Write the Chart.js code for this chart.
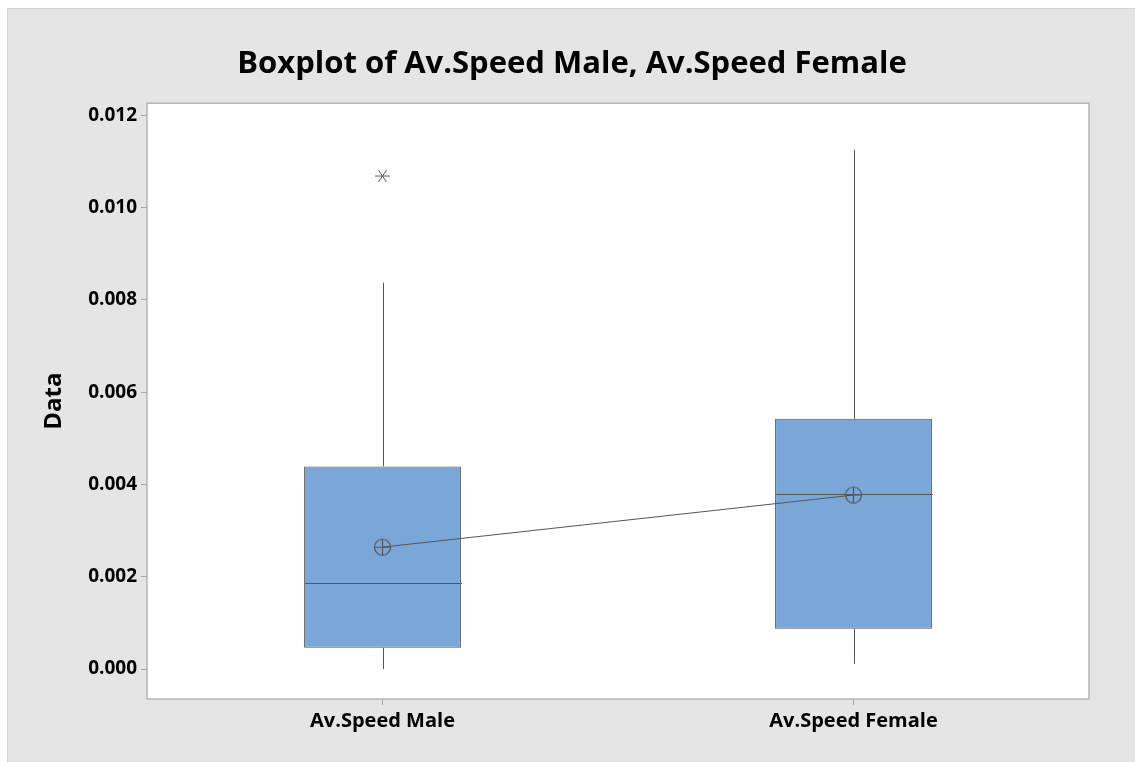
<!DOCTYPE html>
<html>
<head>
<meta charset="utf-8">
<script src="https://cdn.jsdelivr.net/npm/chart.js@4/dist/chart.umd.min.js"></script>
<style>
  html, body { margin: 0; padding: 0; background: #fff; }
  #wrap {
    position: absolute; left: 7px; top: 8px; width: 1128px; height: 754px;
    background: #e5e5e5; border-top: 1px solid #d4d4d4; border-left: 1px solid #d4d4d4;
  }
</style>
</head>
<body>
<div id="wrap"><canvas id="chart"></canvas></div>
<script>
// values
const categories = ["Av.Speed Male", "Av.Speed Female"];
const q1 = [0.00046, 0.00087];
const median = [0.00187, 0.00380];
const q3 = [0.00439, 0.00542];
const whiskerLow = [0.00000, 0.00011];
const whiskerHigh = [0.00837, 0.01125];
const means = [0.00264, 0.00377];
const outlierCat = ["Av.Speed Male"];
const outlierVal = [0.01068];
const tickValues = [0, 0.002, 0.004, 0.006, 0.008, 0.010, 0.012];

const lineCol = "#555555";
const boxFill = "#7ba7d8";
const font = "'Open Sans', 'Noto Sans', sans-serif";

// mean marker: circle with a plus
const meanImg = document.createElement("canvas");
meanImg.width = 19; meanImg.height = 19;
(() => {
  const c = meanImg.getContext("2d");
  c.strokeStyle = lineCol; c.lineWidth = 1.2;
  c.beginPath(); c.arc(9.5, 9.5, 8, 0, Math.PI * 2); c.stroke();
  c.beginPath();
  c.moveTo(1.5, 9.5); c.lineTo(17.5, 9.5);
  c.moveTo(9.5, 1.5); c.lineTo(9.5, 17.5);
  c.stroke();
})();

// outlier marker: asterisk
const starImg = document.createElement("canvas");
starImg.width = 17; starImg.height = 14;
(() => {
  const c = starImg.getContext("2d");
  c.strokeStyle = lineCol; c.lineWidth = 1;
  c.beginPath();
  c.moveTo(1, 7); c.lineTo(16, 7);
  c.moveTo(4.5, 1); c.lineTo(12.5, 13);
  c.moveTo(12.5, 1); c.lineTo(4.5, 13);
  c.stroke();
})();

const framePlugin = {
  id: "frame",
  beforeDatasetsDraw(chart) {
    const a = chart.chartArea, ctx = chart.ctx;
    ctx.save();
    ctx.fillStyle = "#ffffff";
    ctx.fillRect(a.left, a.top, a.right - a.left, a.bottom - a.top);
    ctx.strokeStyle = "#b4b4b4";
    ctx.lineWidth = 1.5;
    ctx.strokeRect(a.left, a.top, a.right - a.left, a.bottom - a.top);
    ctx.restore();
  },
  afterDatasetDraw(chart, args) {
    if (args.index !== 0) return;
    const x = chart.scales.x, y = chart.scales.y, ctx = chart.ctx;
    const bars = chart.getDatasetMeta(0).data;
    ctx.save();
    ctx.strokeStyle = lineCol;
    ctx.lineWidth = 1;
    categories.forEach((cat, i) => {
      const cx = Math.round(x.getPixelForValue(i)) + 0.5;
      const half = bars[i].width / 2;
      ctx.beginPath();
      ctx.moveTo(cx, y.getPixelForValue(q3[i]));
      ctx.lineTo(cx, y.getPixelForValue(whiskerHigh[i]));
      ctx.moveTo(cx, y.getPixelForValue(q1[i]));
      ctx.lineTo(cx, y.getPixelForValue(whiskerLow[i]));
      const my = Math.round(y.getPixelForValue(median[i])) + 0.5;
      ctx.moveTo(cx - half, my);
      ctx.lineTo(cx + half, my);
      ctx.stroke();
    });
    ctx.restore();
  }
};

new Chart(document.getElementById("chart"), {
  data: {
    labels: categories,
    datasets: [
      {
        type: "bar",
        data: categories.map((c, i) => [q1[i], q3[i]]),
        backgroundColor: boxFill,
        borderColor: lineCol,
        borderWidth: 1,
        borderSkipped: false,
        barPercentage: 0.333,
        categoryPercentage: 1,
        grouped: false,
        order: 3
      },
      {
        type: "line",
        data: means,
        borderColor: lineCol,
        borderWidth: 1,
        pointStyle: meanImg,
        pointRadius: 9,
        fill: false,
        order: 1
      },
      {
        type: "scatter",
        data: outlierCat.map((c, i) => ({ x: c, y: outlierVal[i] })),
        pointStyle: starImg,
        pointRadius: 8,
        showLine: false,
        order: 0
      }
    ]
  },
  options: {
    responsive: true,
    maintainAspectRatio: false,
    animation: false,
    layout: { padding: 0 },
    plugins: {
      legend: { display: false },
      tooltip: { enabled: false },
      title: {
        display: true,
        text: "Boxplot of Av.Speed Male, Av.Speed Female",
        color: "#000",
        font: { family: font, size: 31, weight: "bold" },
        padding: { top: 37, bottom: 20 }
      }
    },
    scales: {
      x: {
        type: "category",
        offset: true,
        grid: { display: true, drawOnChartArea: false, tickLength: 6, color: "#a8a8a8", offset: false },
        border: { display: false },
        ticks: { color: "#000", padding: 4, font: { family: font, size: 20, weight: "bold" } },
        afterFit(s) { s.height = 64; }
      },
      y: {
        min: -0.00065,
        max: 0.01226,
        grid: { display: true, drawOnChartArea: false, tickLength: 6, color: "#a8a8a8" },
        border: { display: false },
        ticks: {
          color: "#000",
          padding: 4,
          font: { family: font, size: 19, weight: "bold" },
          callback: v => Number(v).toFixed(3)
        },
        afterBuildTicks(s) { s.ticks = tickValues.map(v => ({ value: v })); },
        title: {
          display: true,
          text: "Data",
          color: "#000",
          font: { family: font, size: 24, weight: "bold" },
          padding: { top: 32, bottom: 0 }
        },
        afterFit(s) { s.width = 139; }
      },
      // empty right-hand margin so the title stays centred on the whole panel
      yRight: {
        position: "right",
        display: true,
        grid: { display: false },
        border: { display: false },
        ticks: { display: false },
        afterFit(s) { s.width = 47; }
      }
    }
  },
  plugins: [framePlugin]
});
</script>
</body>
</html>
